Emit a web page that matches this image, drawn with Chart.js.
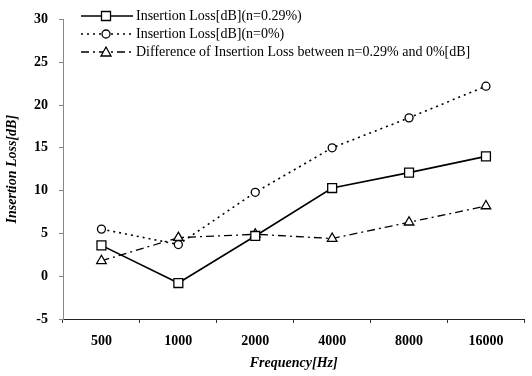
<!DOCTYPE html>
<html>
<head>
<meta charset="utf-8">
<script src="https://cdn.jsdelivr.net/npm/chart.js"></script>
<style>
  body { margin: 0; background: #fff; }
  #wrap { width: 532px; height: 376px; position: relative; }
</style>
</head>
<body>
<div id="wrap"><canvas id="lossChart"></canvas></div>
<script>
// Frequencies and insertion loss values
const frequencies = ['500', '1000', '2000', '4000', '8000', '16000'];
const lossN029 = [3.6, -0.8, 4.7, 10.3, 12.1, 14.0];
const lossN0 = [5.5, 3.7, 9.8, 15.0, 18.5, 22.2];
const lossDiff = [1.8, 4.5, 4.9, 4.4, 6.3, 8.2];
const seriesNames = [
    'Insertion Loss[dB](n=0.29%)',
    'Insertion Loss[dB](n=0%)',
    'Difference of Insertion Loss between n=0.29% and 0%[dB]'
];
const yTicks = [-5, 0, 5, 10, 15, 20, 25, 30];

const serif = "'Liberation Serif', 'DejaVu Serif', serif";

// legend drawn inside the plot area, like the original figure
const insideLegend = {
    id: 'insideLegend',
    afterDraw(chart) {
        const ctx = chart.ctx;
        const left = chart.chartArea.left;
        chart.data.datasets.forEach(function(ds, i) {
            const y = 16 + i * 18;
            const x0 = left + 18, x1 = left + 70, xm = left + 43;
            ctx.save();
            ctx.strokeStyle = '#000';
            ctx.lineWidth = ds.borderWidth;
            ctx.setLineDash(ds.borderDash || []);
            ctx.beginPath();
            ctx.moveTo(x0, y);
            ctx.lineTo(x1, y);
            ctx.stroke();
            ctx.setLineDash([]);
            ctx.fillStyle = '#fff';
            ctx.lineWidth = 1.3;
            ctx.beginPath();
            if (ds.pointStyle === 'rect') {
                ctx.rect(xm - 4.5, y - 4.5, 9, 9);
            } else if (ds.pointStyle === 'circle') {
                ctx.arc(xm, y, 4, 0, Math.PI * 2);
            } else {
                ctx.moveTo(xm, y - 5);
                ctx.lineTo(xm + 5, y + 4);
                ctx.lineTo(xm - 5, y + 4);
                ctx.closePath();
            }
            ctx.fill();
            ctx.stroke();
            ctx.fillStyle = '#000';
            ctx.font = '14px ' + serif;
            ctx.textBaseline = 'middle';
            ctx.fillText(ds.label, x1 + 3, y);
            ctx.restore();
        });
    }
};

const ctx = document.getElementById('lossChart').getContext('2d');
new Chart(ctx, {
    type: 'line',
    data: {
        labels: frequencies,
        datasets: [{
            label: seriesNames[0],
            data: lossN029,
            borderColor: '#000',
            borderWidth: 1.6,
            pointStyle: 'rect',
            pointRadius: 6.3,
            pointBackgroundColor: '#fff',
            pointBorderColor: '#000',
            pointBorderWidth: 1.3
        }, {
            label: seriesNames[1],
            data: lossN0,
            borderColor: '#000',
            borderWidth: 1.6,
            borderDash: [2, 4],
            pointStyle: 'circle',
            pointRadius: 4,
            pointBackgroundColor: '#fff',
            pointBorderColor: '#000',
            pointBorderWidth: 1.3
        }, {
            label: seriesNames[2],
            data: lossDiff,
            borderColor: '#000',
            borderWidth: 1.3,
            borderDash: [8, 4, 2, 4],
            pointStyle: 'triangle',
            pointRadius: 5.5,
            pointBackgroundColor: '#fff',
            pointBorderColor: '#000',
            pointBorderWidth: 1.3
        }]
    },
    options: {
        responsive: true,
        maintainAspectRatio: false,
        animation: false,
        layout: { padding: { top: 19, right: 7 } },
        plugins: {
            legend: { display: false },
            tooltip: { enabled: false }
        },
        scales: {
            x: {
                offset: true,
                grid: { drawOnChartArea: false, offset: true, tickLength: 4, color: '#333' },
                border: { color: '#222', width: 1 },
                ticks: {
                    color: '#000',
                    padding: 10,
                    font: { family: serif, size: 14, weight: 'bold' }
                },
                title: {
                    display: true,
                    text: 'Frequency[Hz]',
                    color: '#000',
                    padding: { top: 5 },
                    font: { family: serif, size: 14, weight: 'bold', style: 'italic' }
                },
                afterFit(scale) { scale.height = 57; }
            },
            y: {
                min: -5,
                max: 30,
                afterBuildTicks(scale) {
                    scale.ticks = yTicks.map(function(v) { return { value: v }; });
                },
                grid: { drawOnChartArea: false, tickLength: 4, color: '#888' },
                border: { color: '#888', width: 1 },
                ticks: {
                    color: '#000',
                    padding: 11,
                    font: { family: serif, size: 14, weight: 'bold' }
                },
                title: {
                    display: true,
                    text: 'Insertion Loss[dB]',
                    color: '#000',
                    padding: { bottom: 2 },
                    font: { family: serif, size: 14, weight: 'bold', style: 'italic' }
                },
                afterFit(scale) { scale.width = 63; }
            }
        }
    },
    plugins: [insideLegend]
});
</script>
</body>
</html>
